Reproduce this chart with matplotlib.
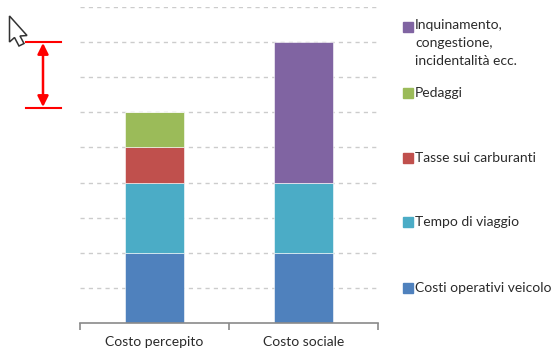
import numpy as np
import matplotlib
matplotlib.use('Agg')
import matplotlib.pyplot as plt
from matplotlib.patches import Polygon

plt.rcParams['font.family'] = ['Lato', 'DejaVu Sans']

# dati
categorie = ['Costo percepito', 'Costo sociale']
costi_operativi = [2, 2]
tempo_viaggio = [2, 2]
tasse_carburanti = [1, 0]
pedaggi = [1, 0]
inquinamento = [0, 4]

serie = [
    ('Costi operativi veicolo', costi_operativi, '#4F81BD'),
    ('Tempo di viaggio', tempo_viaggio, '#4BACC6'),
    ('Tasse sui carburanti', tasse_carburanti, '#C0504D'),
    ('Pedaggi', pedaggi, '#9BBB59'),
    ('Inquinamento,\ncongestione,\nincidentalità ecc.', inquinamento, '#8064A2'),
]

W, H = 554, 353
fig = plt.figure(figsize=(W / 100, H / 100), dpi=100)
ax = fig.add_axes([80 / W, (H - 323) / H, 298 / W, 316 / H])

x = np.arange(len(categorie))
base = np.zeros(len(categorie))
for nome, val, col in serie:
    val = np.array(val, dtype=float)
    ax.bar(x, val, 0.4, bottom=base, color=col, edgecolor='white', linewidth=0.4)
    base += val

ax.set_xlim(-0.5, 1.5)
ax.set_ylim(0, 9)
ax.set_yticks(np.arange(1, 10))
ax.yaxis.grid(True, linestyle=(0, (3, 3)), color='#cccccc', linewidth=1.0)
ax.set_axisbelow(True)
ax.tick_params(axis='y', left=False, labelleft=False)
for s in ['top', 'right', 'left']:
    ax.spines[s].set_visible(False)
ax.spines['bottom'].set_color('#8a8a8a')
ax.spines['bottom'].set_linewidth(1.2)
ax.set_xticks([0, 1])
ax.set_xticklabels(categorie, fontsize=10, color='#2b2b2b')
ax.set_xticks([-0.5, 0.5, 1.5], minor=True)
ax.tick_params(axis='x', which='major', length=0, pad=9)
ax.tick_params(axis='x', which='minor', length=5, color='#8a8a8a', width=1.2, direction='out')

# legenda a destra
leg_y = [288, 222, 158, 93, 27]
for (nome, val, col), yy in zip(serie, leg_y):
    fig.patches.append(plt.Rectangle((403 / W, (H - yy - 5) / H), 10 / W, 10 / H,
                                     transform=fig.transFigure, color=col))
    multi = '\n' in nome
    fig.text(415 / W, (H - (19 if multi else yy)) / H, nome, fontsize=10,
             color='#2b2b2b', va='top' if multi else 'center', linespacing=1.62)

# freccia rossa
for yy in [42, 108]:
    fig.add_artist(plt.Line2D([26 / W, 61 / W], [(H - yy) / H] * 2,
                              color='red', linewidth=1.5))
fig.add_artist(matplotlib.patches.FancyArrowPatch(
    (43 / W, (H - 43) / H), (43 / W, (H - 107) / H), transform=fig.transFigure,
    arrowstyle='<|-|>', mutation_scale=16, color='red', linewidth=1.8,
    shrinkA=0, shrinkB=0))

# puntatore del mouse
cursore = np.array([[9.5, 16], [9.5, 42], [14.5, 37.5], [19, 46], [24, 43.5],
                    [20, 36], [27, 35.5]])
fig.patches.append(Polygon(np.column_stack([cursore[:, 0] / W, (H - cursore[:, 1]) / H]),
                           closed=True, transform=fig.transFigure,
                           facecolor='white', edgecolor='#333333', linewidth=1.1))

fig.savefig('out.png', dpi=100)
